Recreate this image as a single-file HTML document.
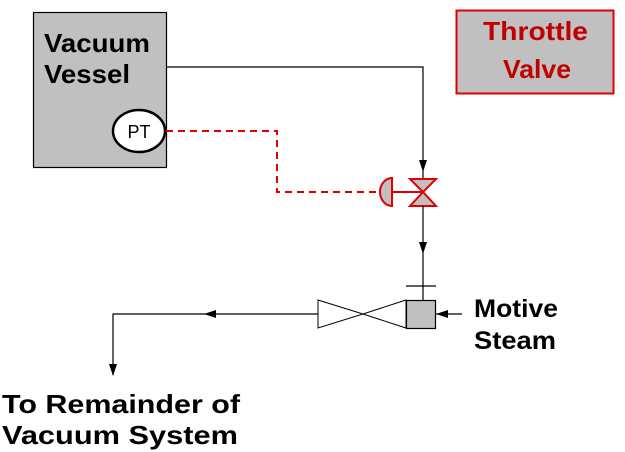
<!DOCTYPE html>
<html><head><style>body{margin:0;background:#fff}svg{display:block}</style></head><body>
<svg width="625" height="452" viewBox="0 0 625 452" xmlns="http://www.w3.org/2000/svg" font-family="Liberation Sans, Arial, sans-serif" font-weight="bold">
<rect x="33.5" y="12.5" width="133" height="155" fill="#c0c0c0" stroke="#000" stroke-width="1.2"/>
<text x="44" y="52" font-size="26" textLength="106" lengthAdjust="spacingAndGlyphs">Vacuum</text>
<text x="44" y="83" font-size="26" textLength="86" lengthAdjust="spacingAndGlyphs">Vessel</text>
<ellipse cx="139" cy="131" rx="26" ry="21" fill="#fff" stroke="#000" stroke-width="2.5"/>
<text x="139" y="138" font-size="18" font-weight="normal" text-anchor="middle">PT</text>
<rect x="456.5" y="10.5" width="157" height="83" fill="#c0c0c0" stroke="#e00000" stroke-width="2"/>
<text x="483" y="40" font-size="26" fill="#c00000" textLength="105" lengthAdjust="spacingAndGlyphs">Throttle</text>
<text x="503" y="78" font-size="26" fill="#c00000" textLength="68" lengthAdjust="spacingAndGlyphs">Valve</text>
<polyline points="167,67 423,67 423,178" fill="none" stroke="#000" stroke-width="1.2"/>
<polygon points="419,160 427,160 423,172" fill="#000"/>
<polyline points="166,131 277,131 277,192 380,192" fill="none" stroke="#e00000" stroke-width="2" stroke-dasharray="7,5"/>
<path d="M392,178 A12,14 0 0 0 392,206 Z" fill="#c0c0c0" stroke="#e00000" stroke-width="2"/>
<line x1="392" y1="192" x2="423" y2="192" stroke="#e00000" stroke-width="2"/>
<polygon points="410,179 436,179 423,192 436,206 410,206 423,192" fill="#c0c0c0" stroke="#e00000" stroke-width="2"/>
<line x1="423" y1="206" x2="423" y2="300" stroke="#000" stroke-width="1.2"/>
<polygon points="419,242 427,242 423,254" fill="#000"/>
<line x1="406" y1="286" x2="436" y2="286" stroke="#000" stroke-width="1.2"/>
<rect x="406.5" y="300.5" width="29" height="28" fill="#c0c0c0" stroke="#000" stroke-width="1.2"/>
<line x1="436" y1="314" x2="462" y2="314" stroke="#000" stroke-width="1.2"/>
<polygon points="436,314 448,310 448,318" fill="#000"/>
<polygon points="406,300 363,314 406,328" fill="none" stroke="#000" stroke-width="1"/>
<polygon points="318,300 363,314 318,328" fill="none" stroke="#000" stroke-width="1"/>
<polyline points="318,314 113,314 113,375" fill="none" stroke="#000" stroke-width="1.2"/>
<polygon points="204,314 216,310 216,318" fill="#000"/>
<polygon points="109,364 117,364 113,376" fill="#000"/>
<text x="474" y="317" font-size="25" textLength="84" lengthAdjust="spacingAndGlyphs">Motive</text>
<text x="474" y="349" font-size="25" textLength="82" lengthAdjust="spacingAndGlyphs">Steam</text>
<text x="2" y="413" font-size="26" textLength="238" lengthAdjust="spacingAndGlyphs">To Remainder of</text>
<text x="2" y="444" font-size="26" textLength="236" lengthAdjust="spacingAndGlyphs">Vacuum System</text>
</svg>
</body></html>
